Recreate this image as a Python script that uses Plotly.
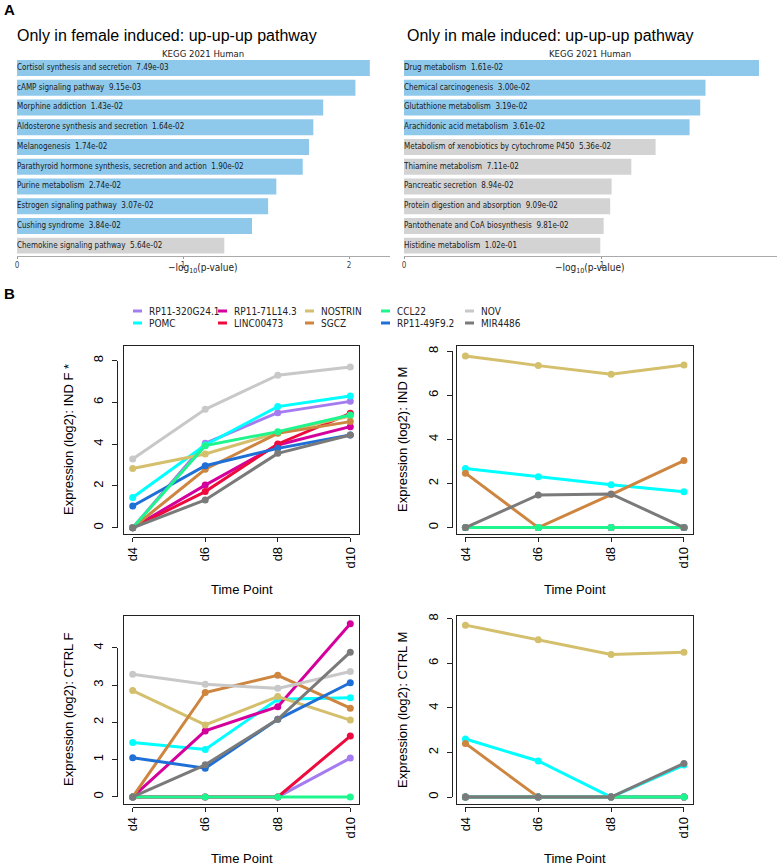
import math
import plotly.graph_objects as go

W, H = 777, 865

# ---------------- Panel A data ----------------
female_terms = ["Cortisol synthesis and secretion", "cAMP signaling pathway", "Morphine addiction",
                "Aldosterone synthesis and secretion", "Melanogenesis",
                "Parathyroid hormone synthesis, secretion and action", "Purine metabolism",
                "Estrogen signaling pathway", "Cushing syndrome", "Chemokine signaling pathway"]
female_p = [7.49e-03, 9.15e-03, 1.43e-02, 1.64e-02, 1.74e-02, 1.90e-02, 2.74e-02, 3.07e-02, 3.84e-02, 5.64e-02]

male_terms = ["Drug metabolism", "Chemical carcinogenesis", "Glutathione metabolism",
              "Arachidonic acid metabolism", "Metabolism of xenobiotics by cytochrome P450",
              "Thiamine metabolism", "Pancreatic secretion", "Protein digestion and absorption",
              "Pantothenate and CoA biosynthesis", "Histidine metabolism"]
male_p = [1.61e-02, 3.00e-02, 3.19e-02, 3.61e-02, 5.36e-02, 7.11e-02, 8.94e-02, 9.09e-02, 9.81e-02, 1.02e-01]

# ---------------- Panel B data ----------------
genes = ["RP11-320G24.1", "POMC", "RP11-71L14.3", "LINC00473", "NOSTRIN",
         "SGCZ", "CCL22", "RP11-49F9.2", "NOV", "MIR4486"]
gene_colors = ["#A57CF0", "#00FFFF", "#D5009C", "#EE0A3C", "#D4BF6C",
               "#CD853F", "#1EF58C", "#1E6FD6", "#C8C8C8", "#7A7A7A"]
time_points = ["d4", "d6", "d8", "d10"]

ind_f = [
    [0.00, 4.04, 5.51, 6.05],
    [1.45, 3.96, 5.80, 6.31],
    [0.00, 2.04, 3.96, 4.84],
    [0.00, 1.73, 4.01, 5.48],
    [2.84, 3.53, 4.55, 5.35],
    [0.00, 2.80, 4.52, 5.08],
    [0.00, 3.93, 4.60, 5.40],
    [1.04, 2.97, 3.80, 4.44],
    [3.29, 5.67, 7.30, 7.70],
    [0.00, 1.33, 3.56, 4.44],
]
ind_m = [
    [0.00, 0.00, 0.00, 0.00],
    [2.68, 2.31, 1.94, 1.63],
    [0.00, 0.00, 0.00, 0.00],
    [0.00, 0.00, 0.00, 0.00],
    [7.79, 7.35, 6.96, 7.38],
    [2.47, 0.00, 1.50, 3.04],
    [0.00, 0.00, 0.00, 0.00],
    [0.00, 0.00, 0.00, 0.00],
    [0.00, 0.00, 0.00, 0.00],
    [0.00, 1.48, 1.53, 0.00],
]
ctrl_f = [
    [0.00, 0.00, 0.00, 1.04],
    [1.46, 1.27, 2.62, 2.66],
    [0.00, 1.77, 2.42, 4.64],
    [0.00, 0.00, 0.00, 1.63],
    [2.85, 1.93, 2.69, 2.06],
    [0.00, 2.80, 3.26, 2.38],
    [0.00, 0.00, 0.00, 0.00],
    [1.05, 0.77, 2.08, 3.06],
    [3.29, 3.02, 2.91, 3.36],
    [0.00, 0.86, 2.08, 3.88],
]
ctrl_m = [
    [0.00, 0.00, 0.00, 0.00],
    [2.61, 1.62, 0.00, 1.44],
    [0.00, 0.00, 0.00, 0.00],
    [0.00, 0.00, 0.00, 0.00],
    [7.72, 7.06, 6.40, 6.50],
    [2.41, 0.00, 0.00, 0.00],
    [0.00, 0.00, 0.00, 0.00],
    [0.00, 0.00, 0.00, 0.00],
    [0.00, 0.00, 0.00, 0.00],
    [0.00, 0.00, 0.00, 1.51],
]
# drawing order (later on top)
draw_order = [0, 1, 2, 3, 4, 5, 7, 8, 6, 9]


def fx(x):
    return x / W


def fy(y):
    return 1 - y / H


NARROW = "Liberation Sans Narrow, DejaVu Sans Condensed, sans-serif"
ARIAL = "Liberation Sans, Arial, Helvetica, sans-serif"

fig = go.Figure()
layout = dict(width=W, height=H, margin=dict(l=0, r=0, t=0, b=0, pad=0, autoexpand=False),
              paper_bgcolor="white", plot_bgcolor="rgba(0,0,0,0)", showlegend=False)
annotations = []
shapes = []

# ---------------- Panel A: bar charts ----------------
bar_panels = [
    dict(terms=female_terms, p=female_p, x0=17, x1=390, xmax=2.247, ticks=[0, 1, 2],
         title="Only in female induced: up-up-up pathway", title_x=15, kegg_x=203),
    dict(terms=male_terms, p=male_p, x0=404, x1=777, xmax=1.884, ticks=[0, 1],
         title="Only in male induced: up-up-up pathway", title_x=405, kegg_x=590),
]
for k, bp in enumerate(bar_panels):
    ax = 5 + k
    xs = "x%d" % ax
    ys = "y%d" % ax
    vals = [-math.log10(p) for p in bp["p"]]
    cols = ["#8EC9EC" if p < 0.05 else "#D3D3D3" for p in bp["p"]]
    labels = ["%s\u00a0\u00a0%.2e" % (t, p) for t, p in zip(bp["terms"], bp["p"])]
    fig.add_trace(go.Bar(x=vals, y=bp["terms"], orientation="h", marker=dict(color=cols, line=dict(width=0)),
                         xaxis=xs, yaxis=ys, hoverinfo="skip"))
    fig.add_trace(go.Scatter(x=[0] * len(vals), y=bp["terms"], mode="text", text=labels,
                             textposition="middle right",
                             textfont=dict(family=NARROW, size=8, color="#1a1a1a"),
                             xaxis=xs, yaxis=ys, hoverinfo="skip"))
    layout["xaxis%d" % ax] = dict(domain=[fx(bp["x0"]), fx(bp["x1"])], range=[0, bp["xmax"]], anchor=ys,
                                  tickvals=bp["ticks"], ticks="outside", ticklen=2, tickcolor="#999",
                                  showline=True, linecolor="#aaaaaa", linewidth=1, automargin=False,
                                  tickfont=dict(family=NARROW, size=8, color="#444"),
                                  showgrid=False, zeroline=False)
    layout["yaxis%d" % ax] = dict(domain=[fy(255.5), fy(58.1)], type="category", range=[9.5, -0.5],
                                  anchor=xs, showticklabels=False, showline=False, ticks="", automargin=False,
                                  showgrid=False, zeroline=False)
    annotations.append(dict(text=bp["title"], x=fx(bp["title_x"]), y=fy(36), xref="paper", yref="paper",
                            xanchor="left", yanchor="middle", showarrow=False,
                            font=dict(family=ARIAL, size=16, color="black")))
    annotations.append(dict(text="KEGG 2021 Human", x=fx(bp["kegg_x"]), y=fy(54), xref="paper", yref="paper",
                            xanchor="center", yanchor="middle", showarrow=False,
                            font=dict(family=NARROW, size=9.5, color="#222")))
    annotations.append(dict(text="\u2212log<sub>10</sub>(p-value)", x=fx(bp["kegg_x"]), y=fy(268),
                            xref="paper", yref="paper", xanchor="center", yanchor="middle", showarrow=False,
                            font=dict(family=NARROW, size=10, color="#222")))
layout["bargap"] = 0.19

# panel letters
annotations.append(dict(text="<b>A</b>", x=fx(2), y=fy(9), xref="paper", yref="paper", xanchor="left",
                        yanchor="middle", showarrow=False, font=dict(family=ARIAL, size=15, color="black")))
annotations.append(dict(text="<b>B</b>", x=fx(2), y=fy(293), xref="paper", yref="paper", xanchor="left",
                        yanchor="middle", showarrow=False, font=dict(family=ARIAL, size=15, color="black")))

# ---------------- Panel B: legend ----------------
leg_col_x = [133, 218, 305, 381, 465]
leg_row_y = [311, 323]
for i, g in enumerate(genes):
    c, r = i // 2, i % 2
    lx, ly = leg_col_x[c], leg_row_y[r]
    shapes.append(dict(type="line", xref="paper", yref="paper", x0=fx(lx), x1=fx(lx + 9),
                       y0=fy(ly), y1=fy(ly), line=dict(color=gene_colors[i], width=3)))
    annotations.append(dict(text=g, x=fx(lx + 14), y=fy(ly), xref="paper", yref="paper",
                            xanchor="left", yanchor="middle", showarrow=False,
                            font=dict(family=NARROW, size=10, color="#222")))

# ---------------- Panel B: line plots ----------------
line_panels = [
    dict(data=ind_f, box=(124, 346, 359, 534), ylim=(-0.30, 8.70), yticks=[0, 2, 4, 6, 8],
         yaxis_x=117.3, xaxis_y=536.7, title="Expression (log2): IND F *", ytitle_x=68, xtitle_y=589),
    dict(data=ind_m, box=(456.7, 346, 692.7, 534), ylim=(-0.29, 8.24), yticks=[0, 2, 4, 6, 8],
         yaxis_x=451.7, xaxis_y=536.7, title="Expression (log2): IND M", ytitle_x=402, xtitle_y=589),
    dict(data=ctrl_f, box=(124, 616, 359, 804), ylim=(-0.19, 4.85), yticks=[0, 1, 2, 3, 4],
         yaxis_x=117.3, xaxis_y=806.7, title="Expression (log2): CTRL F", ytitle_x=68, xtitle_y=858),
    dict(data=ctrl_m, box=(456.7, 616, 692.7, 804), ylim=(-0.31, 8.13), yticks=[0, 2, 4, 6, 8],
         yaxis_x=451.7, xaxis_y=806.7, title="Expression (log2): CTRL M", ytitle_x=402, xtitle_y=858),
]
XR = (-0.12, 3.12)
for k, lp in enumerate(line_panels):
    ax = 1 + k
    xs, ys = "x%d" % ax, "y%d" % ax
    bx0, by0, bx1, by1 = lp["box"]
    for gi in draw_order:
        fig.add_trace(go.Scatter(x=time_points, y=lp["data"][gi], mode="lines+markers",
                                 line=dict(color=gene_colors[gi], width=3),
                                 marker=dict(color=gene_colors[gi], size=7),
                                 xaxis=xs, yaxis=ys, hoverinfo="skip"))
    layout["xaxis%d" % ax] = dict(domain=[fx(bx0), fx(bx1)], range=list(XR), type="category",
                                  categoryorder="array", categoryarray=time_points, anchor=ys,
                                  showline=True, mirror=True, linecolor="#222", linewidth=1, automargin=False,
                                  ticks="", showticklabels=False, showgrid=False, zeroline=False)
    layout["yaxis%d" % ax] = dict(domain=[fy(by1), fy(by0)], range=list(lp["ylim"]), anchor=xs,
                                  showline=True, mirror=True, linecolor="#222", linewidth=1, automargin=False,
                                  ticks="", showticklabels=False, showgrid=False, zeroline=False)
    # R-style detached axes
    tax = 7 + k
    txs, tys = "x%d" % tax, "y%d" % tax
    wpx = bx1 - bx0
    d_lo = bx0 + (0 - XR[0]) / (XR[1] - XR[0]) * wpx
    d_hi = bx0 + (3 - XR[0]) / (XR[1] - XR[0]) * wpx
    y0v, y1v = lp["ylim"]
    hpx = by1 - by0
    t_lo = by1 - (lp["yticks"][0] - y0v) / (y1v - y0v) * hpx
    t_hi = by1 - (lp["yticks"][-1] - y0v) / (y1v - y0v) * hpx
    fig.add_trace(go.Scatter(x=[None], y=[None], mode="markers", xaxis=txs, yaxis=tys, hoverinfo="skip"))
    layout["xaxis%d" % tax] = dict(domain=[fx(d_lo), fx(d_hi)], range=[0, 3], anchor="free",
                                   position=fy(lp["xaxis_y"]), tickvals=[0, 1, 2, 3], ticktext=time_points,
                                   tickangle=-90, ticks="outside", ticklen=4, tickcolor="#222",
                                   showline=True, linecolor="#222", linewidth=1, automargin=False,
                                   tickfont=dict(family=ARIAL, size=13, color="black"),
                                   showgrid=False, zeroline=False)
    layout["yaxis%d" % tax] = dict(domain=[fy(t_lo), fy(t_hi)],
                                   range=[lp["yticks"][0], lp["yticks"][-1]], anchor="free",
                                   position=fx(lp["yaxis_x"]), tickvals=lp["yticks"],
                                   tickangle=-90, ticks="outside", ticklen=5, tickcolor="#222",
                                   ticklabelstandoff=4, automargin=False,
                                   showline=True, linecolor="#222", linewidth=1,
                                   tickfont=dict(family=ARIAL, size=13, color="black"),
                                   showgrid=False, zeroline=False)
    annotations.append(dict(text=lp["title"], x=fx(lp["ytitle_x"]), y=fy((by0 + by1) / 2),
                            xref="paper", yref="paper", xanchor="center", yanchor="middle",
                            textangle=-90, showarrow=False, font=dict(family=ARIAL, size=13, color="black")))
    annotations.append(dict(text="Time Point", x=fx((bx0 + bx1) / 2), y=fy(lp["xtitle_y"]),
                            xref="paper", yref="paper", xanchor="center", yanchor="middle",
                            showarrow=False, font=dict(family=ARIAL, size=13, color="black")))

layout["annotations"] = annotations
layout["shapes"] = shapes
fig.update_layout(**layout)
fig.write_html("out.html", config={"displayModeBar": False, "staticPlot": True},
               post_script="document.body.style.margin='0px';document.body.style.padding='0px';"
                           "document.documentElement.style.overflow='hidden';")
